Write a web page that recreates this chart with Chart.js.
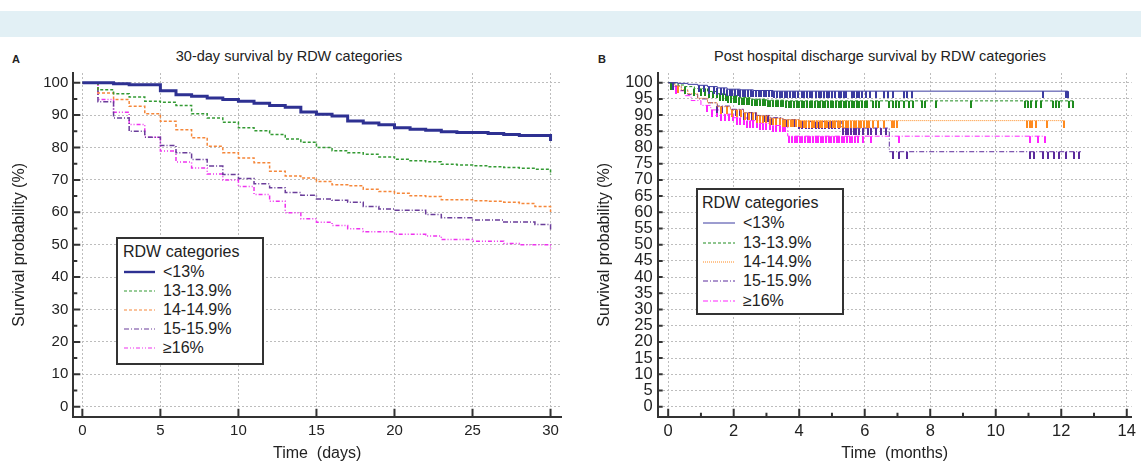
<!DOCTYPE html>
<html>
<head>
<meta charset="utf-8">
<script src="https://cdn.jsdelivr.net/npm/chart.js@4.4.0/dist/chart.umd.min.js"></script>
<style>
body{margin:0;width:1141px;height:463px;background:#fff;position:relative;overflow:hidden;font-family:"Liberation Sans",Arial,sans-serif;color:#222}
#band{position:absolute;left:0;top:11px;width:1141px;height:26px;background:#e2f0f5}
canvas{position:absolute;top:40px}
.ttl{position:absolute;top:48px;font-size:14.5px;white-space:nowrap;transform:translateX(-50%)}
.tag{position:absolute;top:53px;font-size:11px;font-weight:bold}
.box{position:absolute;border:2px solid #333;background:#fff;box-sizing:border-box}
.lt{position:absolute;font-size:16px;line-height:20px;white-space:nowrap}
svg.ls{position:absolute;overflow:visible}
</style>
</head>
<body>
<div id="band"></div>
<div class="tag" style="left:12px">A</div>
<div class="tag" style="left:598px">B</div>
<div class="ttl" style="left:289px">30-day survival by RDW categories</div>
<div class="ttl" style="left:880px">Post hospital discharge survival by RDW categories</div>
<canvas id="cA" width="575" height="423" style="left:0"></canvas>
<canvas id="cB" width="556" height="423" style="left:585px"></canvas>
<div id="legends"></div>
<script>
Chart.defaults.font.family = '"Liberation Sans", Arial, sans-serif';
Chart.defaults.color = '#222';

// ---- panel A data (30-day, daily steps) ----
const days = [0,1,2,3,4,5,6,7,8,9,10,11,12,13,14,15,16,17,18,19,20,21,22,23,24,25,26,27,28,29,30];
const a13   = [100,100,99.7,99.4,99.4,97.5,96.3,95.8,95.3,94.8,94.3,93.7,93.0,92.4,91.0,90.3,89.7,88.2,87.6,87.0,86.1,85.6,85.3,84.9,84.6,84.6,84.3,84.0,83.7,83.7,82.0];
const a1339 = [100,97.8,96.6,95.6,94.3,94.0,93.0,90.4,89.1,87.8,86.1,85.2,84.0,82.6,81.6,80.0,79.0,78.4,77.9,77.1,76.4,75.9,75.6,74.8,74.6,74.4,74.1,73.8,73.6,73.3,71.5];
const a1449 = [100,96.8,94.8,92.7,90.4,88.1,85.5,83.0,80.4,78.4,76.8,75.3,72.7,71.2,70.6,69.5,68.5,68.2,67.1,66.4,65.9,65.1,64.9,63.9,63.9,63.6,63.4,63.1,62.7,61.8,60.1];
const a1559 = [100,94.1,89.1,85.0,83.2,80.6,78.4,76.3,74.3,71.7,70.4,68.8,67.6,66.1,65.3,64.1,63.7,63.1,61.8,61.0,60.6,60.6,59.3,58.3,58.3,57.6,57.6,57.0,57.0,56.2,54.5];
const a16   = [100,94.8,90.9,87.1,83.2,78.9,75.5,73.7,71.8,70.0,68.0,65.5,63.4,59.9,58.0,56.9,55.9,54.9,54.0,54.0,53.2,53.2,52.7,51.6,51.6,51.1,51.1,50.4,50.0,50.0,48.4];

// ---- panel B data (months, KM steps + censor times) ----
const b13T = [0,0.3,0.6,0.9,1.2,1.5,1.8,2.2,2.6,3.2,12.2];
const b13S = [100,99.8,99.5,99.2,98.8,98.4,98.0,97.8,97.6,97.4,97.4];
const b1339T = [0,0.3,0.5,0.8,1.2,1.5,1.8,2.1,2.5,3.0,3.6,12.4];
const b1339S = [100,99.3,98.8,98.2,97.3,96.6,96.0,95.4,94.9,94.6,94.4,94.4];
const b1449T = [0,0.2,0.4,0.6,0.9,1.2,1.5,1.9,2.3,2.7,3.1,3.5,4.0,12.1];
const b1449S = [100,99.0,97.8,96.6,95.2,93.8,92.6,91.6,90.7,89.8,89.0,88.6,88.3,88.3];
const b1559T = [0,0.2,0.4,0.6,0.9,1.2,1.5,1.9,2.3,2.7,3.1,3.5,4.0,5.3,6.75,12.6];
const b1559S = [100,99.0,97.6,96.4,95.0,93.8,92.8,91.8,90.8,89.9,89.2,88.6,88.0,86.0,78.7,78.7];
const b16T = [0,0.15,0.3,0.5,0.7,1.0,1.3,1.6,2.0,2.4,2.8,3.2,3.65,11.5];
const b16S = [100,98.8,97.5,96.0,94.5,93.0,91.6,90.3,89.2,88.3,87.5,86.8,83.5,83.5];

const b13C = [0.15,0.95,1.1,1.25,1.4,1.5,1.6,1.7,1.8,1.88,1.96,2.04,2.12,2.2,2.28,2.36,2.44,2.52,2.6,2.68,2.76,2.84,2.92,3.0,3.08,3.16,3.24,3.32,3.4,3.48,3.56,3.64,3.72,3.8,3.88,3.96,4.08,4.16,4.24,4.32,4.4,4.52,4.6,4.68,4.76,4.84,4.92,5.0,5.08,5.2,5.28,5.36,5.44,5.6,5.68,5.76,5.84,5.92,6.05,6.15,6.35,6.6,6.7,6.85,7.2,7.3,7.43,11.44,12.13,12.17,12.2];
const b1339C = [0.1,0.5,0.8,1.0,1.12,1.24,1.36,1.48,1.58,1.68,1.76,1.84,1.92,2.0,2.08,2.16,2.24,2.32,2.4,2.48,2.56,2.64,2.72,2.8,2.88,2.96,3.04,3.12,3.2,3.28,3.36,3.44,3.52,3.6,3.68,3.76,3.84,3.92,4.0,4.08,4.16,4.24,4.32,4.4,4.48,4.56,4.64,4.72,4.8,4.88,4.96,5.04,5.12,5.2,5.28,5.36,5.44,5.52,5.6,5.68,5.76,5.84,5.92,6.0,6.08,6.25,6.35,6.45,6.75,6.85,6.95,7.05,7.2,7.34,7.46,7.75,7.84,8.19,9.24,10.89,10.99,11.09,11.24,11.39,11.74,11.84,11.94,12.24,12.36];
const b1449C = [0.3,1.6,1.8,1.95,2.1,2.22,2.34,2.46,2.58,2.7,2.8,2.9,3.0,3.1,3.2,3.3,3.4,3.5,3.58,3.66,3.74,3.82,3.9,3.98,4.06,4.14,4.22,4.3,4.38,4.46,4.54,4.62,4.7,4.78,4.86,4.94,5.02,5.1,5.18,5.26,5.34,5.42,5.5,5.58,5.66,5.74,5.82,5.9,5.98,6.06,6.14,6.25,6.4,6.6,6.83,6.9,7.0,10.96,11.04,11.12,11.24,11.56,12.09];
const b1559C = [0.12,1.5,1.65,1.8,1.95,2.08,2.2,2.32,2.44,2.56,2.68,2.8,2.92,3.04,3.16,3.28,3.4,3.52,3.64,3.76,3.88,4.0,4.1,4.2,4.3,4.4,4.5,4.6,4.7,4.8,4.9,5.0,5.1,5.2,5.35,5.42,5.5,5.58,5.66,5.74,5.82,5.95,6.1,6.2,6.35,6.5,6.65,6.85,7.05,7.3,11.04,11.16,11.44,11.59,11.79,11.94,12.14,12.39,12.54];
const b16C = [0.25,1.2,1.35,1.5,1.62,1.74,1.86,1.98,2.1,2.2,2.3,2.4,2.5,2.6,2.7,2.8,2.9,3.0,3.1,3.2,3.3,3.4,3.5,3.58,3.7,3.78,3.86,3.94,4.02,4.1,4.18,4.26,4.34,4.42,4.5,4.58,4.66,4.74,4.82,4.9,4.98,5.06,5.14,5.22,5.3,5.38,5.46,5.54,5.62,5.7,5.78,5.94,6.2,7.05,11.04,11.29,11.49];

// ---- tick lists ----
const dayTicks = [0,5,10,15,20,25,30];
const survTicksA = [0,10,20,30,40,50,60,70,80,90,100];
const survMinorA = [5,15,25,35,45,55,65,75,85,95];
const monthTicks = [0,2,4,6,8,10,12,14];
const monthMinor = [1,3,5,7,9,11,13];
const survTicksB = [0,5,10,15,20,25,30,35,40,45,50,55,60,65,70,75,80,85,90,95,100];

const rdwNames = ['<13%','13-13.9%','14-14.9%','15-15.9%','≥16%'];
const styleA = [
  {color:'#2e3192', width:3, dash:[]},
  {color:'#339a33', width:1.5, dash:[3,2]},
  {color:'#f5873a', width:1.5, dash:[3,2]},
  {color:'#6a3d9a', width:1.5, dash:[5,2,1,2]},
  {color:'#ee33ee', width:1.5, dash:[4,2,1,2,1,2]}
];
const styleB = [
  {color:'#3b3ba0', width:1, dash:[]},
  {color:'#1f8c1f', width:1, dash:[3,2]},
  {color:'#ff8a1e', width:1, dash:[1,1]},
  {color:'#5b2a9c', width:1, dash:[5,2,1,2]},
  {color:'#ff22ff', width:1, dash:[5,2,1,2]}
];

// ticks drawn inward from the axis lines
const innerTicks = {
  id:'innerTicks',
  afterDraw(chart, args, o){
    const ctx = chart.ctx, a = chart.chartArea, xs = chart.scales.x, ys = chart.scales.y;
    ctx.save();
    ctx.strokeStyle = '#333';
    ctx.lineWidth = 2;
    ctx.beginPath();
    const xt = (list, len) => list.forEach(v => { const p = xs.getPixelForValue(v); ctx.moveTo(p, a.bottom); ctx.lineTo(p, a.bottom - len); });
    const yt = (list, len) => list.forEach(v => { const p = ys.getPixelForValue(v); ctx.moveTo(a.left, p); ctx.lineTo(a.left + len, p); });
    xt(o.xMajor, 8); xt(o.xMinor || [], 4);
    yt(o.yMajor, o.yLen || 7); yt(o.yMinor || [], 4);
    ctx.stroke();
    ctx.restore();
  }
};

function scales(xr, yr){
  return {
    x:{
      type:'linear', min:xr.min, max:xr.max,
      afterBuildTicks: s => { s.ticks = xr.ticks.map(v => ({value:v})); },
      afterFit: s => { s.height = 46.3; },
      grid:{color:'#bdbdbd', lineWidth:1, drawTicks:false},
      border:{color:'#333', width:2, dash:[2,2]},
      ticks:{padding:5, font:{size:xr.font}, color:'#222', autoSkip:false, maxRotation:0},
      title:{display:true, text:xr.title, font:{size:16}, color:'#222', padding:{top:0,bottom:0}}
    },
    y:{
      type:'linear', min:-3.09, max:103,
      afterBuildTicks: s => { s.ticks = yr.ticks.map(v => ({value:v})); },
      afterFit: s => { s.width = yr.width; },
      grid:{color:'#bdbdbd', lineWidth:1, drawTicks:false},
      border:{color:'#333', width:2, dash:[2,2]},
      ticks:{padding:5, font:{size:yr.font}, color:'#222', autoSkip:false},
      title:{display:true, text:'Survival probability (%)', font:{size:16}, color:'#222', padding:{top:10,bottom:0}}
    }
  };
}

const baseOpts = {responsive:false, animation:false, events:[],
  plugins:{legend:{display:false}, tooltip:{enabled:false}}};

// ---- panel A ----
const seriesA = [a13, a1339, a1449, a1559, a16];
new Chart(document.getElementById('cA'), {
  type:'line',
  data:{datasets: seriesA.map((s,i) => ({
    label:rdwNames[i], data:days.map((d,k) => ({x:d, y:s[k]})), stepped:true,
    borderColor:styleA[i].color, borderWidth:styleA[i].width, borderDash:styleA[i].dash,
    pointRadius:0, fill:false
  }))},
  options:Object.assign({}, baseOpts, {
    layout:{padding:{top:33, right:14, left:0, bottom:0}},
    plugins:Object.assign({}, baseOpts.plugins, {innerTicks:{xMajor:dayTicks, yMajor:survTicksA, yMinor:survMinorA}}),
    scales:scales({min:-0.58, max:30.67, ticks:dayTicks, font:15, title:'Time  (days)'},
                  {ticks:survTicksA, font:15, width:73.3})
  }),
  plugins:[innerTicks]
});

// ---- panel B ----
function survAt(T, S, t){
  let v = S[0];
  for (let i = 0; i < T.length; i++) if (T[i] <= t) v = S[i];
  return v;
}
function censorMark(color){
  const c = document.createElement('canvas');
  c.width = 2; c.height = 14;
  const g = c.getContext('2d');
  g.fillStyle = color;
  g.fillRect(0, 7, 2, 7);
  return c;
}
const seriesB = [[b13T,b13S,b13C],[b1339T,b1339S,b1339C],[b1449T,b1449S,b1449C],[b1559T,b1559S,b1559C],[b16T,b16S,b16C]];
const dsB = [];
seriesB.forEach(([T,S,C], i) => {
  dsB.push({label:rdwNames[i], data:T.map((t,k) => ({x:t, y:S[k]})), stepped:true,
    borderColor:styleB[i].color, borderWidth:styleB[i].width, borderDash:styleB[i].dash,
    pointRadius:0, fill:false});
  dsB.push({label:rdwNames[i] + ' censored', data:C.map(t => ({x:t, y:survAt(T,S,t)})), showLine:false,
    pointStyle:censorMark(styleB[i].color), pointRadius:4});
});
new Chart(document.getElementById('cB'), {
  type:'line',
  data:{datasets:dsB},
  options:Object.assign({}, baseOpts, {
    layout:{padding:{top:33, right:0, left:0, bottom:0}},
    plugins:Object.assign({}, baseOpts.plugins, {innerTicks:{xMajor:monthTicks, xMinor:monthMinor, yMajor:survTicksB, yLen:5}}),
    scales:scales({min:-0.32, max:14.15, ticks:monthTicks, font:16.5, title:'Time  (months)'},
                  {ticks:survTicksB, font:16.5, width:72.7})
  }),
  plugins:[innerTicks]
});

// ---- legends (HTML boxes) ----
function legend(box, titleY, rowY, lineX, lineW, textX, styles){
  const root = document.getElementById('legends');
  let h = '<div class="box" style="left:'+box[0]+'px;top:'+box[1]+'px;width:'+box[2]+'px;height:'+box[3]+'px"></div>';
  h += '<div class="lt" style="left:'+(lineX-1)+'px;top:'+(titleY-10)+'px">RDW categories</div>';
  rdwNames.forEach((n,i) => {
    const y = rowY[i];
    h += '<svg class="ls" width="'+lineW+'" height="4" style="left:'+lineX+'px;top:'+(y-2)+'px">' +
         '<line x1="0" y1="2" x2="'+lineW+'" y2="2" stroke="'+styles[i].color+'" stroke-width="'+Math.max(styles[i].width*0.8,1)+'" stroke-dasharray="'+(styles[i].dash.join(',')||'none')+'"/></svg>';
    h += '<div class="lt" style="left:'+textX+'px;top:'+(y-10)+'px">'+n.replace('<','&lt;')+'</div>';
  });
  root.insertAdjacentHTML('beforeend', h);
}
legend([116,237,148,128], 252, [271.7,291,310,329,348.3], 124, 31, 163, styleA);
legend([696,188,148,127], 203, [223.3,242.7,261.7,280.7,300.7], 703, 32, 743, styleB);
</script>
</body>
</html>
